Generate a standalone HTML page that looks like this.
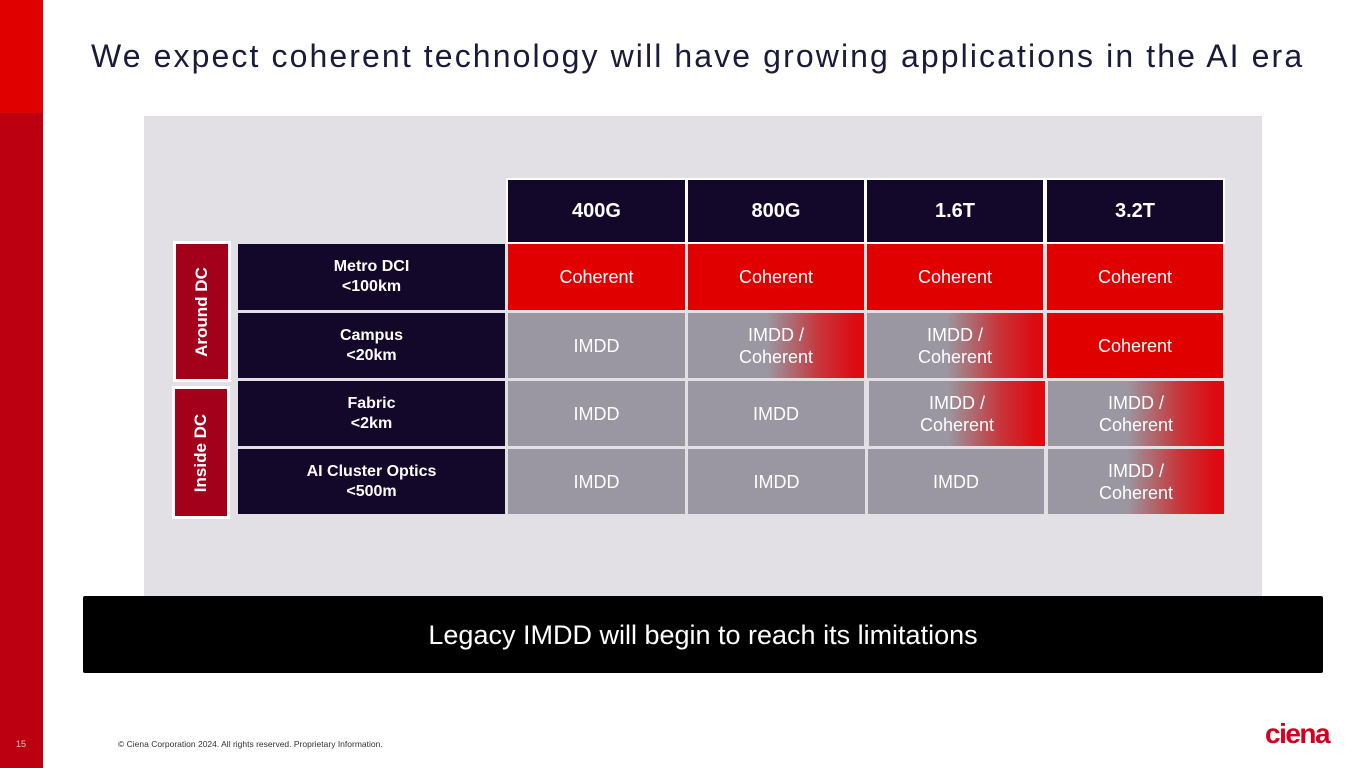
<!DOCTYPE html>
<html><head><meta charset="utf-8"><style>
*{margin:0;padding:0;box-sizing:border-box}
body{width:1365px;height:768px;position:relative;background:#fff;font-family:"Liberation Sans",Arial,sans-serif;overflow:hidden}
.a{position:absolute}
.c{position:absolute;display:flex;align-items:center;justify-content:center;text-align:center;color:#fff;font-size:18px;line-height:22px}
.h{background:#14082a;font-weight:bold;font-size:20px;border:2px solid #fff}
.r{background:#14082a;font-weight:bold;font-size:16px;line-height:20px}
.co{background:#e00000}
.im{background:#9a97a2}
.mx{background:linear-gradient(90deg,#9a97a2 0%,#9a97a2 45%,#c8343a 75%,#dd0a12 95%)}
.g{background:#a3001c;border:3px solid #fff;font-weight:bold;font-size:17px}
.g span{transform:rotate(-90deg);white-space:nowrap;display:block}
</style></head><body>
<div class="a" style="left:0;top:0;width:43px;height:768px;background:#bd0011"></div>
<div class="a" style="left:0;top:0;width:43px;height:113px;background:#e00000"></div>
<div class="a" style="left:91px;top:38px;font-size:32px;color:#1a1a3a;letter-spacing:2.1px;white-space:nowrap">We expect coherent technology will have growing applications in the AI era</div>
<div class="a" style="left:144px;top:116px;width:1118px;height:480px;background:#e2e0e5"></div>

<div class="c h" style="left:506px;top:178px;width:181px;height:66px">400G</div>
<div class="c h" style="left:686px;top:178px;width:180px;height:66px">800G</div>
<div class="c h" style="left:865px;top:178px;width:180px;height:66px">1.6T</div>
<div class="c h" style="left:1045px;top:178px;width:180px;height:66px">3.2T</div>

<div class="c g" style="left:173px;top:241px;width:58px;height:141px"><span>Around DC</span></div>
<div class="c g" style="left:172px;top:386px;width:58px;height:133px"><span>Inside DC</span></div>

<div class="c r" style="left:238px;top:244px;width:267px;height:66px">Metro DCI<br>&lt;100km</div>
<div class="c r" style="left:238px;top:313px;width:267px;height:65px">Campus<br>&lt;20km</div>
<div class="c r" style="left:238px;top:381px;width:267px;height:65px">Fabric<br>&lt;2km</div>
<div class="c r" style="left:238px;top:449px;width:267px;height:65px">AI Cluster Optics<br>&lt;500m</div>

<div class="c co" style="left:508px;top:244px;width:177px;height:66px">Coherent</div>
<div class="c co" style="left:688px;top:244px;width:176px;height:66px">Coherent</div>
<div class="c co" style="left:867px;top:244px;width:176px;height:66px">Coherent</div>
<div class="c co" style="left:1047px;top:244px;width:176px;height:66px">Coherent</div>

<div class="c im" style="left:508px;top:313px;width:177px;height:65px">IMDD</div>
<div class="c mx" style="left:688px;top:313px;width:176px;height:65px">IMDD /<br>Coherent</div>
<div class="c mx" style="left:867px;top:313px;width:176px;height:65px">IMDD /<br>Coherent</div>
<div class="c co" style="left:1047px;top:313px;width:176px;height:65px">Coherent</div>

<div class="c im" style="left:508px;top:381px;width:177px;height:65px">IMDD</div>
<div class="c im" style="left:688px;top:381px;width:176px;height:65px">IMDD</div>
<div class="c mx" style="left:869px;top:381px;width:176px;height:65px">IMDD /<br>Coherent</div>
<div class="c mx" style="left:1048px;top:381px;width:176px;height:65px">IMDD /<br>Coherent</div>

<div class="c im" style="left:508px;top:449px;width:177px;height:65px">IMDD</div>
<div class="c im" style="left:688px;top:449px;width:177px;height:65px">IMDD</div>
<div class="c im" style="left:868px;top:449px;width:176px;height:65px">IMDD</div>
<div class="c mx" style="left:1048px;top:449px;width:176px;height:65px">IMDD /<br>Coherent</div>

<div class="c" style="left:83px;top:596px;width:1240px;height:77px;background:#000;font-size:27px;border-radius:2px">Legacy IMDD will begin to reach its limitations</div>

<div class="a" style="left:16px;top:739px;font-size:9px;color:#f0c0c0">15</div>
<div class="a" style="left:118px;top:739px;font-size:8.5px;color:#333">© Ciena Corporation 2024. All rights reserved. Proprietary Information.</div>
<div class="a" style="left:1265px;top:718px;font-size:28px;font-weight:bold;color:#d2001e;letter-spacing:-1.5px">ciena</div>
</body></html>
